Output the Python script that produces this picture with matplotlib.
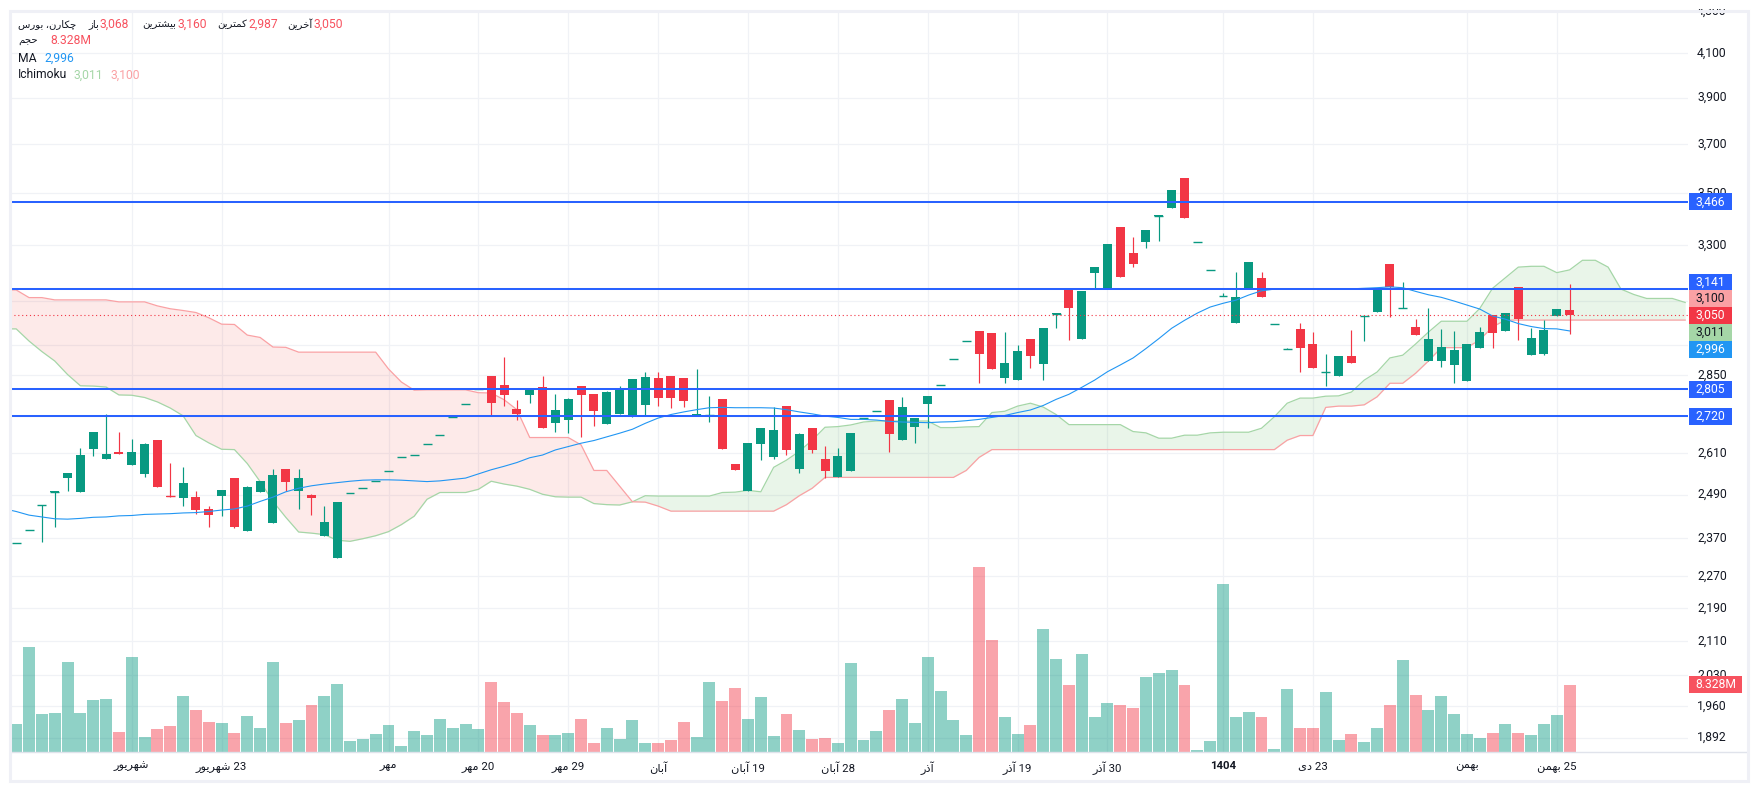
import numpy as np
import matplotlib
matplotlib.use('Agg')
import matplotlib.pyplot as plt
from matplotlib.lines import Line2D
from matplotlib.patches import Rectangle
from matplotlib.ticker import NullLocator

plt.rcParams['ytick.alignment'] = 'center'

W, H = 1757, 790

open_ = [2357,2392,2461,2498,2536,2497,2622,2592,2613,2574,
         2548,2649,2487,2480,2484,2451,2486,2537,2389,2497,
         2412,2564,2500,2489,2377,2318,2496,2510,2528,2557,
         2598,2604,2636,2663,2718,2758,2805,2848,2819,2744,
         2787,2813,2701,2710,2816,2791,2697,2728,2719,2757,
         2841,2848,2841,2726,2723,2775,2578,2500,2637,2599,
         2753,2563,2685,2593,2541,2557,2714,2736,2771,2649,
         2687,2759,2817,2901,2961,2995,2988,2841,2835,2968,
         2885,3055,3145,2969,3199,3145,3369,3272,3312,3413,
         3443,3561,3311,3211,3115,3022,3141,3180,3021,2935,
         3003,2952,2859,2848,2912,3047,3061,3231,3073,3009,
         2896,2896,2884,2831,2938,3050,2996,3148,2916,2919,
         3047,3068]
high = [2357,2392,2462,2499,2551,2625,2673,2727,2673,2652,
        2640,2649,2580,2568,2500,2459,2503,2537,2515,2529,
        2564,2564,2564,2491,2459,2470,2496,2510,2528,2557,
        2598,2604,2636,2663,2718,2758,2805,2848,2910,2772,
        2806,2848,2791,2778,2816,2791,2800,2816,2838,2861,
        2861,2848,2841,2870,2784,2775,2578,2640,2685,2750,
        2753,2670,2685,2631,2625,2670,2714,2736,2771,2780,
        2714,2784,2817,2901,2961,2995,2988,2992,2948,2968,
        3005,3056,3145,3134,3221,3305,3369,3331,3357,3414,
        3513,3561,3311,3211,3127,3202,3239,3202,3021,2938,
        3023,2993,2919,2912,3000,3047,3141,3231,3166,3036,
        3075,3003,2996,2952,3009,3050,3057,3148,3006,3033,
        3071,3160]
low = [2357,2392,2361,2401,2500,2497,2601,2592,2607,2574,
       2540,2511,2484,2459,2436,2401,2431,2397,2389,2497,
       2412,2500,2450,2433,2377,2318,2496,2510,2528,2557,
       2598,2604,2636,2663,2718,2758,2805,2725,2753,2710,
       2763,2685,2673,2670,2658,2691,2697,2728,2719,2725,
       2753,2747,2750,2726,2703,2622,2560,2500,2590,2593,
       2604,2552,2610,2537,2541,2557,2714,2736,2613,2649,
       2640,2684,2817,2901,2961,2825,2870,2825,2835,2873,
       2835,3005,2965,2969,3142,3145,3184,3221,3290,3316,
       3443,3404,3311,3211,3115,3022,3141,3113,3021,2935,
       2860,2873,2815,2848,2889,2962,3061,3043,3073,2982,
       2896,2877,2825,2831,2938,2938,2996,2966,2916,2916,
       3047,2987]
close = [2357,2392,2462,2499,2551,2604,2673,2607,2607,2613,
         2637,2511,2484,2522,2447,2434,2503,2400,2511,2529,
         2546,2525,2537,2480,2415,2470,2496,2510,2528,2557,
         2598,2604,2636,2663,2718,2758,2805,2763,2788,2728,
         2806,2685,2741,2775,2788,2738,2797,2804,2838,2844,
         2778,2778,2769,2728,2723,2622,2560,2640,2685,2679,
         2619,2667,2619,2556,2602,2670,2714,2736,2666,2749,
         2714,2784,2817,2901,2961,2919,2870,2889,2929,2912,
         3005,3056,3074,3134,3221,3305,3184,3232,3357,3414,
         3513,3404,3311,3211,3115,3112,3239,3113,3021,2935,
         2938,2873,2859,2912,2889,3047,3141,3148,3073,2982,
         2969,2942,2932,2952,2993,2989,3057,3036,2973,2999,
         3071,3050]

# volume in millions
volume = [3.51,13.04,4.74,4.87,11.18,4.87,6.48,6.60,2.52,11.80,
          1.90,2.89,3.26,6.97,5.24,3.75,3.63,2.39,4.50,3.01,
          11.18,3.63,4.00,5.86,6.97,8.46,1.40,1.65,2.27,3.38,
          0.78,2.64,2.15,4.13,3.01,3.51,2.89,8.70,6.23,4.87,
          3.38,2.15,2.15,2.39,4.13,1.16,3.01,1.65,4.00,1.16,
          1.16,1.53,3.75,1.90,8.70,6.35,7.96,4.13,6.85,2.02,
          4.74,2.76,1.65,1.77,1.16,11.06,1.53,2.64,5.24,6.60,
          3.63,11.80,7.59,4.00,2.15,22.94,13.90,4.37,2.27,3.38,
          15.26,11.55,8.33,12.17,4.37,6.11,5.86,5.49,9.32,9.82,
          10.19,8.33,0.29,1.40,20.83,4.37,4.99,4.37,0.41,7.84,
          3.01,3.01,7.47,1.53,2.27,1.28,3.01,5.86,11.43,7.10,
          5.24,6.97,4.74,2.27,1.77,2.39,3.51,2.39,2.15,3.51,
          4.62,8.33]

# moving average, starts one bar left of the first candle
ma = [2451,2443,2433,2428,2423,2422,2424,2427,2428,2431,2432,2435,2436,2437,2439,2440,
      2443,2447,2450,2458,2471,2483,2498,2508,2515,2520,2524,2528,2531,2532,2532,2531,2529,
      2527,2529,2533,2537,2549,2561,2571,2582,2596,2604,2619,2629,2639,2647,2658,2669,2681,
      2699,2715,2726,2734,2741,2747,2748,2747,2747,2747,2746,2741,2734,2728,2721,2717,
      2711,2711,2709,2705,2703,2702,2701,2703,2704,2707,2711,2717,2723,2732,2740,2754,2773,
      2789,2811,2834,2861,2883,2906,2937,2970,3005,3032,3057,3078,3091,3102,3120,3135,
      3141,3141,3141,3141,3141,3142,3142,3144,3146,3149,3146,3133,3121,3112,3099,3085,3071,
      3047,3036,3021,3011,3004,3003,2996]

# ichimoku cloud edges, also from one bar left, running on past the last candle
span_a = [3003,3003,2962,2927,2896,2852,2816,2815,2812,2787,2786,2779,2765,2746,2722,2662,
          2640,2621,2620,2579,2527,2471,2427,2387,2384,2380,2365,2362,2369,2377,2388,2407,2430,
          2477,2496,2496,2496,2505,2528,2520,2514,2505,2491,2484,2483,2483,2465,2462,2461,2470,
          2487,2486,2486,2486,2486,2486,2496,2497,2502,2498,2568,2589,2615,2648,2687,2689,
          2694,2703,2706,2706,2706,2706,2706,2686,2686,2688,2689,2732,2736,2752,2761,2749,2726,
          2695,2695,2695,2695,2695,2674,2670,2654,2654,2663,2663,2670,2672,2672,2672,2684,
          2719,2761,2777,2777,2783,2784,2796,2834,2860,2906,2915,2952,2992,3029,3029,3029,3073,
          3144,3182,3220,3223,3223,3200,3210,3245,3245,3220,3141,3122,3108,3108,3108,3094]
span_b = [3138,3138,3111,3111,3103,3103,3103,3103,3103,3096,3096,3096,3082,3072,3066,3059,
          3041,3019,3018,2982,2974,2942,2941,2925,2925,2925,2925,2925,2925,2925,2870,2828,2802,
          2803,2803,2803,2803,2794,2793,2772,2741,2656,2656,2656,2656,2634,2559,2559,2514,2470,
          2469,2458,2444,2444,2444,2444,2444,2444,2444,2444,2444,2462,2487,2508,2539,2539,
          2539,2539,2539,2539,2539,2539,2539,2539,2539,2559,2597,2620,2620,2620,2620,2620,2620,
          2620,2620,2620,2620,2620,2620,2620,2620,2620,2620,2620,2620,2620,2620,2620,2620,
          2620,2648,2662,2662,2748,2752,2752,2756,2781,2824,2824,2856,2896,2940,2940,2940,2966,
          3010,3033,3033,3033,3033,3033,3033,3033,3033,3033,3033,3033,3033,3033,3033,3033]

levels = [3466, 3141, 2805, 2720]
last_price = 3050
price_ticks = [4300,4100,3900,3700,3500,3300,3100,2950,2850,2720,2610,2490,2370,2270,2190,2110,2030,1960,1892]

time_ticks = [9,16,29,36,43,50,57,64,71,78,85,94,101,113,120]
time_labels = ['شهریور','23 شهریور','مهر','20 مهر','29 مهر','آبان','19 آبان','28 آبان',
               'آذر','19 آذر','30 آذر','1404','23 دی','بهمن','25 بهمن']

GREEN = '#089981'
RED = '#F23645'
BLUE = '#2962FF'
MA_BLUE = '#2196F3'
DARK = '#131722'
GRID = '#F0F2F6'
FRAME = '#EFF0F6'
FONT = ['Roboto', 'DejaVu Sans']

# matplotlib does no Arabic shaping, so pick the joined glyphs by hand
FORMS = {
    'ا': '\uFE8D\uFE8E', 'آ': '\uFE81\uFE82', 'د': '\uFEA9\uFEAA', 'ذ': '\uFEAB\uFEAC',
    'ر': '\uFEAD\uFEAE', 'ز': '\uFEAF\uFEB0', 'و': '\uFEED\uFEEE',
    'ب': '\uFE8F\uFE90\uFE91\uFE92', 'ت': '\uFE95\uFE96\uFE97\uFE98',
    'ج': '\uFE9D\uFE9E\uFE9F\uFEA0', 'چ': '\uFB7A\uFB7B\uFB7C\uFB7D',
    'ح': '\uFEA1\uFEA2\uFEA3\uFEA4', 'خ': '\uFEA5\uFEA6\uFEA7\uFEA8',
    'س': '\uFEB1\uFEB2\uFEB3\uFEB4', 'ش': '\uFEB5\uFEB6\uFEB7\uFEB8',
    'ک': '\uFB8E\uFB8F\uFB90\uFB91', 'م': '\uFEE1\uFEE2\uFEE3\uFEE4',
    'ن': '\uFEE5\uFEE6\uFEE7\uFEE8', 'ه': '\uFEE9\uFEEA\uFEEB\uFEEC',
    'ی': '\uFBFC\uFBFD\uFBFE\uFBFF',
}


def shape_word(word):
    if word.isdigit():
        return word
    out = []
    for k, ch in enumerate(word):
        if ch not in FORMS:
            out.append(ch)
            continue
        prev = word[k - 1] if k > 0 else ''
        nxt = word[k + 1] if k + 1 < len(word) else ''
        joins_prev = prev in FORMS and len(FORMS[prev]) == 4
        joins_next = len(FORMS[ch]) == 4 and nxt in FORMS
        if joins_prev and joins_next:
            out.append(FORMS[ch][3])
        elif joins_prev:
            out.append(FORMS[ch][1])
        elif joins_next:
            out.append(FORMS[ch][2])
        else:
            out.append(FORMS[ch][0])
    return ''.join(reversed(out))


def fa(text):
    return ' '.join(shape_word(t) for t in reversed(text.split()))


def put(x, y, s, color=DARK, ha='left', size=8.7):
    fig.text(x / W, 1 - y / H, s, color=color, ha=ha, va='center', fontsize=size, family=FONT)


def axis_tag(s, y, bg, fg, right=1732):
    fig.add_artist(Rectangle((1689 / W, 1 - (y + 8.5) / H), (right - 1689) / W, 17 / H,
                             transform=fig.transFigure, facecolor=bg, edgecolor='none', zorder=8))
    fig.text((1689 + right) / 2 / W, 1 - y / H, s, color=fg, ha='center', va='center',
             fontsize=8.7, family=FONT, zorder=9)


fig = plt.figure(figsize=(W / 100, H / 100), dpi=100, facecolor='white')
ax = fig.add_axes([10 / W, 1 - 752 / H, 1678 / W, 740.8 / H])
vol = ax.twinx()

x = np.arange(len(close))
o, h, l, c = map(np.array, (open_, high, low, close))
is_red = c < o
colors = np.where(is_red, RED, GREEN)

# volume at the bottom, on the twin so the grid stays behind the bars
vol.bar(x, volume, width=0.93, color=colors, alpha=0.45, linewidth=0)
vol.set_ylim(0, 740.8 * 0.1238)
vol.axis('off')

ax.set_yscale('log')
ax.set_ylim(1861.6, 4300)
ax.set_xlim(-0.483, 130.22)

# cloud
cloud_x = np.arange(-1, len(span_a) - 1)
a, b = np.array(span_a), np.array(span_b)
ax.fill_between(cloud_x, a, b, where=a >= b, interpolate=True, color='#4CAF50', alpha=0.12, linewidth=0, zorder=1)
ax.fill_between(cloud_x, a, b, where=a <= b, interpolate=True, color='#EF5350', alpha=0.12, linewidth=0, zorder=1)
ax.plot(cloud_x, a, color='#A5D6A7', lw=0.9, zorder=1.5)
ax.plot(cloud_x, b, color='#FAA1A4', lw=0.9, zorder=1.5)

# candles
ax.vlines(x, l, h, color=colors, lw=0.85, zorder=3)
ax.bar(x, np.abs(c - o), bottom=np.minimum(o, c), width=0.7, color=colors, linewidth=0, zorder=3)
flat = np.abs(c - o) < 4
ax.hlines(o[flat], x[flat] - 0.35, x[flat] + 0.35, color=colors[flat], lw=1.0, zorder=3)

ax.plot(np.arange(-1, len(close)), ma, color=MA_BLUE, lw=0.8, zorder=3.5)

ax.axhline(last_price, color=RED, lw=0.8, ls=(0, (1, 2.5)), zorder=4)
for level in levels:
    ax.axhline(level, color=BLUE, lw=1.45, zorder=5)

ax.yaxis.tick_right()
ax.yaxis.set_minor_locator(NullLocator())
ax.set_yticks(price_ticks)
ax.set_yticklabels([f'{v:,}' for v in price_ticks])
ax.yaxis.set_minor_locator(NullLocator())
ax.set_xticks(time_ticks)
ax.set_xticklabels([fa(t) for t in time_labels])
ax.tick_params(axis='both', length=0, colors=DARK)
ax.tick_params(axis='y', pad=6.5, labelsize=8.7)
ax.tick_params(axis='x', pad=6.5, labelsize=8.2)
for lab in ax.get_xticklabels() + ax.get_yticklabels():
    lab.set_family(FONT)
ax.get_xticklabels()[time_labels.index('1404')].set_fontweight('bold')
ax.grid(True, color=GRID, lw=0.9)
ax.set_axisbelow(True)
for s in ax.spines.values():
    s.set_visible(False)
for s in vol.spines.values():
    s.set_visible(False)

# legend rows
FA_SIZE = 7.3
put(18, 24, fa('چکارن، بورس'), size=FA_SIZE)
put(99, 24, fa('باز'), ha='right', size=FA_SIZE)
put(100, 24, '3,068', '#F7525F')
put(176, 24, fa('بیشترین'), ha='right', size=FA_SIZE)
put(177, 24, '3,160', '#F7525F')
put(247, 24, fa('کمترین'), ha='right', size=FA_SIZE)
put(248, 24, '2,987', '#F7525F')
put(313, 24, fa('آخرین'), ha='right', size=FA_SIZE)
put(314, 24, '3,050', '#F7525F')
put(18, 41, fa('حجم'), size=FA_SIZE)
put(50, 41, '8.328M', '#F7525F')
put(18, 58, 'MA')
put(44, 58, '2,996', MA_BLUE)
put(18, 75, 'Ichimoku')
put(74, 75, '3,011', '#A5D6A7')
put(111, 75, '3,100', '#FAA1A4')


def price_y(p):
    return H - ax.transData.transform((0, p))[1]


# right side tags, the stacked ones pushed apart the way the chart does it
axis_tag('3,466', price_y(3466), BLUE, 'white')
axis_tag('3,141', price_y(3141) - 7, BLUE, 'white')
axis_tag('3,100', price_y(3100) - 2, '#FAA1A4', DARK)
axis_tag('3,050', price_y(3050), RED, 'white')
axis_tag('3,011', price_y(3011) + 6, '#A5D6A7', DARK)
axis_tag('2,996', price_y(2996) + 18.5, MA_BLUE, 'white')
axis_tag('2,805', price_y(2805), BLUE, 'white')
axis_tag('2,720', price_y(2720), BLUE, 'white')
axis_tag('8.328M', H - vol.transData.transform((0, volume[-1]))[1], '#F7525F', 'white', right=1742)

# outer frame, white band hides the top half of the 4,300 label
fig.add_artist(Rectangle((0, 1 - 9 / H), 1, 9 / H, transform=fig.transFigure,
                         facecolor='white', edgecolor='none', zorder=10))
fig.add_artist(Rectangle((10 / W, 1 - 781 / H), 1738 / W, 770 / H, transform=fig.transFigure,
                         facecolor='none', edgecolor=FRAME, lw=2.2, zorder=11))
fig.add_artist(Line2D([10 / W, 1747 / W], [1 - 752 / H, 1 - 752 / H], transform=fig.transFigure,
                      color='#E0E3EB', lw=1, zorder=7))

fig.savefig('out.png', dpi=100)
